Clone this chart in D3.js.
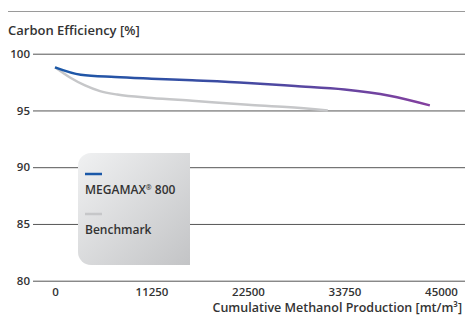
<!DOCTYPE html>
<html>
<head>
<meta charset="utf-8">
<script src="https://cdn.jsdelivr.net/npm/d3@7"></script>
<style>
  body { margin: 0; background: #fff; }
  text { font-family: "Open Sans", "Noto Sans", sans-serif; fill: #333; }
</style>
</head>
<body>
<script>
let w = 465;
let h = 316;

// values
let xTicks = [0, 11250, 22500, 33750, 45000];
let yTicks = [80, 85, 90, 95, 100];
let megamaxX = [0, 3000, 7000, 11250, 16000, 22500, 28000, 33750, 39000, 43700];
let megamaxY = [98.8, 98.15, 97.95, 97.8, 97.65, 97.42, 97.15, 96.85, 96.3, 95.45];
let benchX = [0, 1750, 3500, 5250, 7250, 11250, 16000, 22500, 27000, 31800];
let benchY = [98.8, 97.9, 97.2, 96.7, 96.4, 96.1, 95.85, 95.5, 95.3, 95.0];
let seriesNames = ["MEGAMAX", "Benchmark"];

let x = d3.scaleLinear().domain([0, 45000]).range([55, 441]);
let y = d3.scaleLinear().domain([80, 100]).range([280.7, 53.7]);

let svg = d3.select("body")
            .append("svg")
            .attr("width", w)
            .attr("height", h);

let defs = svg.append("defs");
let lg = defs.append("linearGradient")
  .attr("id", "mm")
  .attr("gradientUnits", "userSpaceOnUse")
  .attr("x1", x(0)).attr("x2", x(43700)).attr("y1", 0).attr("y2", 0);
lg.append("stop").attr("offset", "0%").attr("stop-color", "#1a58a8");
lg.append("stop").attr("offset", "45%").attr("stop-color", "#3c4ba2");
lg.append("stop").attr("offset", "100%").attr("stop-color", "#84409f");

let bg = defs.append("linearGradient")
  .attr("id", "box")
  .attr("x1", "0%").attr("y1", "0%").attr("x2", "100%").attr("y2", "100%");
bg.append("stop").attr("offset", "0%").attr("stop-color", "#f0f1f2");
bg.append("stop").attr("offset", "100%").attr("stop-color", "#c3c4c6");

// top rule
svg.append("line")
  .attr("x1", 8).attr("x2", w).attr("y1", 11.5).attr("y2", 11.5)
  .attr("stroke", "#9a9a9a").attr("stroke-width", 1);

svg.append("text")
  .attr("x", 8).attr("y", 35)
  .attr("font-size", 13)
  .attr("font-weight", 600)
  .text("Carbon Efficiency [%]");

// y gridlines
let yAxis = svg.append("g")
  .attr("transform", "translate(33,0)")
  .call(d3.axisLeft(y).tickValues(yTicks).tickSize(-(w - 33)).tickPadding(3));
yAxis.select(".domain").remove();
yAxis.selectAll("line").attr("stroke", "#555").attr("stroke-width", 1);
yAxis.selectAll("text")
  .attr("font-size", 11.5).attr("font-weight", 600)
  .attr("fill", "#333").style("font-family", "'Open Sans', sans-serif");

// x labels
let xAxis = svg.append("g")
  .attr("transform", "translate(0,285)")
  .call(d3.axisBottom(x).tickValues(xTicks).tickFormat(d3.format("d")).tickSize(0).tickPadding(3));
xAxis.select(".domain").remove();
xAxis.selectAll("text")
  .attr("font-size", 11.5).attr("font-weight", 600)
  .attr("fill", "#333").style("font-family", "'Open Sans', sans-serif");

svg.append("text")
  .attr("x", 462).attr("y", 312)
  .attr("text-anchor", "end")
  .attr("font-size", 12.5)
  .attr("font-weight", 600)
  .text("Cumulative Methanol Production [mt/m\u00B3]");

let line = d3.line()
  .x(d => x(d[0]))
  .y(d => y(d[1]))
  .curve(d3.curveMonotoneX);

svg.append("path")
  .datum(benchX.map((v, i) => [v, benchY[i]]))
  .attr("d", line)
  .attr("fill", "none")
  .attr("stroke", "#c6c7c9")
  .attr("stroke-width", 2.5);

svg.append("path")
  .datum(megamaxX.map((v, i) => [v, megamaxY[i]]))
  .attr("d", line)
  .attr("fill", "none")
  .attr("stroke", "url(#mm)")
  .attr("stroke-width", 2.5);

// legend box, rounded on the left only
let bx = 78, by = 153, bw = 112, bh = 112, r = 13;
svg.append("path")
  .attr("d", `M${bx + r},${by} H${bx + bw} V${by + bh} H${bx + r} A${r},${r} 0 0 1 ${bx},${by + bh - r} V${by + r} A${r},${r} 0 0 1 ${bx + r},${by} Z`)
  .attr("fill", "url(#box)");

let legend = svg.selectAll("g.leg")
  .data(seriesNames)
  .enter()
  .append("g")
  .attr("class", "leg")
  .attr("transform", (d, i) => `translate(85,${174 + i * 40})`);

legend.append("line")
  .attr("x1", 0).attr("x2", 17)
  .attr("stroke", (d, i) => i == 0 ? "#1a58a8" : "#c6c7c9")
  .attr("stroke-width", 2.5);

let lt = legend.append("text")
  .attr("x", 0).attr("y", 20)
  .attr("font-size", 12)
  .attr("font-weight", 600)
  .text(d => d);
lt.filter((d, i) => i == 0).append("tspan")
  .attr("font-size", 7).attr("dy", -4).text("\u00AE");
lt.filter((d, i) => i == 0).append("tspan")
  .attr("dy", 4).text(" 800");
</script>
</body>
</html>
